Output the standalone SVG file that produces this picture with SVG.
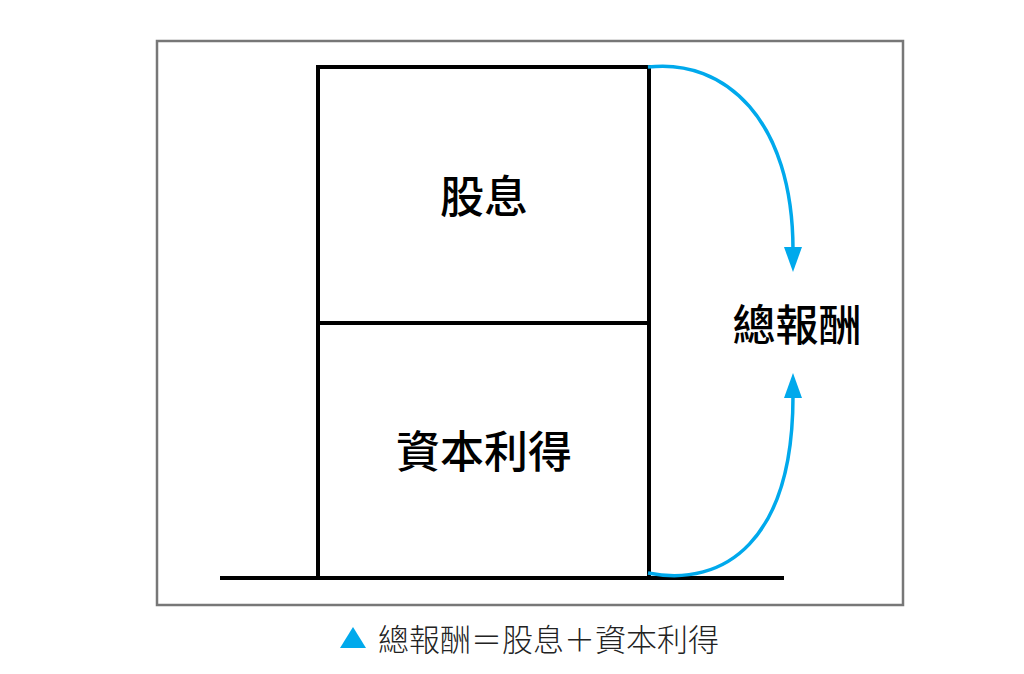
<svg xmlns="http://www.w3.org/2000/svg" width="1024" height="674" viewBox="0 0 1024 674">
<defs>
<style>
.box{fill:none;stroke:#000;stroke-width:4}
.lbl{font-family:"Noto Sans CJK TC","Noto Sans CJK SC",sans-serif;font-weight:500;fill:#000;text-anchor:middle;dominant-baseline:central}
.arr{fill:none;stroke:#00a9ec;stroke-width:3.5}
</style>
</defs>
<rect x="0" y="0" width="1024" height="674" fill="#fff"/>
<rect x="157" y="41" width="746" height="564" fill="none" stroke="#777" stroke-width="2.5"/>
<line x1="220" y1="578" x2="784" y2="578" stroke="#000" stroke-width="4"/>
<g id="dividend">
<rect class="box" x="318" y="67" width="331" height="256"/>
<text class="lbl" x="484" y="194" font-size="44">股息</text>
</g>
<g id="capital-gain">
<rect class="box" x="318" y="323" width="331" height="255"/>
<text class="lbl" x="484" y="449" font-size="44">資本利得</text>
</g>
<g id="total-return">
<text class="lbl" x="797" y="322" font-size="43">總報酬</text>
</g>
<g id="connectors">
<path class="arr" d="M648,67 C725,58 793,120 793,250"/>
<path d="M784,247 L802,247 L793,272 Z" fill="#00a9ec"/>
<path class="arr" d="M648,573 C725,588 793,540 793,396"/>
<path d="M784,398 L802,398 L793,373 Z" fill="#00a9ec"/>
</g>
<g id="caption">
<path d="M340,648 L366,648 L353,627 Z" fill="#00a9ec"/>
<text x="378" y="637" font-family="'Noto Sans CJK TC','Noto Sans CJK SC',sans-serif" font-weight="300" font-size="31" fill="#222" dominant-baseline="central">總報酬＝股息＋資本利得</text>
</g>
</svg>
